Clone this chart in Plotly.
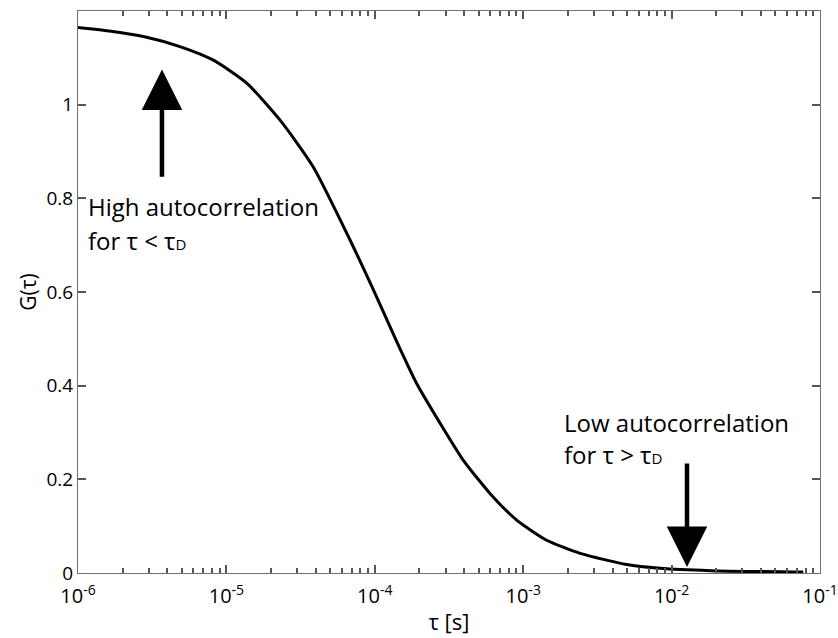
import numpy as np
import plotly.graph_objects as go

# Curve
tau = [1.00e-6, 1.67e-6, 2.81e-6, 4.86e-6, 8.17e-6, 1.37e-5, 2.30e-5, 3.85e-5,
       6.81e-5, 9.77e-5, 1.41e-4, 1.91e-4, 2.75e-4, 3.94e-4, 5.97e-4,
       9.04e-4, 1.44e-3, 2.42e-3, 4.98e-3, 8.36e-3, 1.82e-2, 7.71e-2]
G = [1.165, 1.157, 1.145, 1.124, 1.095, 1.046, 0.967, 0.867,
     0.711, 0.605, 0.493, 0.405, 0.320, 0.241, 0.170,
     0.113, 0.070, 0.042, 0.018, 0.010, 0.005, 0.002]

# Arrows: position (tau), tip value, tail value
arrow_tau = [3.68e-6, 1.27e-2]
arrow_tip = [1.075, 0.013]
arrow_tail = [0.843, 0.237]

# Labels (one entry per text line)
D_SUB = "<span style='font-size:15px'>D</span>"
label_text = ["High autocorrelation", "for τ < τ" + D_SUB,
              "Low autocorrelation", "for τ > τ" + D_SUB]
label_tau = [1.13e-6, 1.13e-6, 1.82e-3, 1.82e-3]
label_y = [0.782, 0.711, 0.322, 0.254]

x_tickvals = [1e-6, 1e-5, 1e-4, 1e-3, 1e-2, 1e-1]
x_ticktext = ["10<sup>-6</sup>", "10<sup>-5</sup>", "10<sup>-4</sup>",
              "10<sup>-3</sup>", "10<sup>-2</sup>", "10<sup>-1</sup>"]
x_minorvals = [k * 10.0 ** e for e in range(-6, -1) for k in range(2, 10)]
y_tickvals = [0, 0.2, 0.4, 0.6, 0.8, 1.0, 1.2]
y_ticktext = ["0", "0.2", "0.4", "0.6", "0.8", "1", "1.2"]

FONT = "Open Sans"
AX = "#555555"

fig = go.Figure()
# invisible copy on the overlay axis that carries the minor ticks
fig.add_trace(go.Scatter(x=tau, y=G, xaxis="x2", mode="lines", opacity=0,
                         line=dict(width=0), showlegend=False, hoverinfo="skip"))
fig.add_trace(go.Scatter(x=tau, y=G, mode="lines",
                         line=dict(color="black", width=3, shape="spline", smoothing=0.6),
                         showlegend=False, hoverinfo="skip"))

for t, tip, tail in zip(arrow_tau, arrow_tip, arrow_tail):
    fig.add_annotation(x=np.log10(t), y=tip, ax=np.log10(t), ay=tail,
                       xref="x", yref="y", axref="x", ayref="y",
                       text="", showarrow=True, arrowhead=2, arrowsize=1.8,
                       arrowwidth=4.5, arrowcolor="black")

for txt, t, yv in zip(label_text, label_tau, label_y):
    fig.add_annotation(x=np.log10(t), y=yv, xref="x", yref="y", text=txt,
                       showarrow=False, xanchor="left", yanchor="middle", align="left",
                       font=dict(family=FONT, size=24, color="black"))

axis_common = dict(showline=True, linecolor="#707070", linewidth=1, mirror="ticks",
                   ticks="inside", ticklen=8, tickcolor=AX, tickwidth=1.5,
                   showgrid=False, zeroline=False, automargin=False)

fig.update_layout(
    xaxis=dict(type="log", range=[-6, -1], tickmode="array", tickvals=x_tickvals,
               ticktext=x_ticktext, ticklabelstandoff=5,
               tickfont=dict(family=FONT, size=20, color="black"),
               title=dict(text="τ [s]", font=dict(family=FONT, size=22, color="black"), standoff=6),
               **axis_common),
    xaxis2=dict(type="log", range=[-6, -1], overlaying="x", side="bottom", anchor="y",
                tickmode="array", tickvals=x_minorvals, showticklabels=False,
                showline=False, mirror="ticks", ticks="inside", ticklen=5,
                tickcolor=AX, tickwidth=1.5, showgrid=False, zeroline=False,
                automargin=False),
    yaxis=dict(range=[0, 1.2], tickmode="array", tickvals=y_tickvals, ticktext=y_ticktext,
               tickfont=dict(family=FONT, size=19, color="black"),
               title=dict(text="G(τ)", font=dict(family=FONT, size=21, color="black"), standoff=4),
               **axis_common),
    width=838, height=638, margin=dict(l=78, r=18, t=11, b=65),
    plot_bgcolor="white", paper_bgcolor="white",
    font=dict(family=FONT, color="black"),
)

fig.write_html("out.html")
